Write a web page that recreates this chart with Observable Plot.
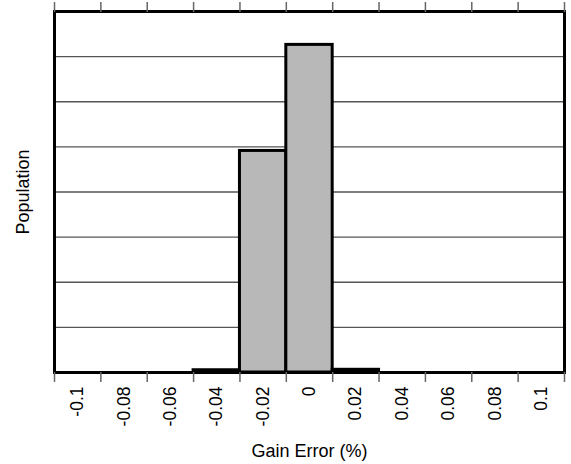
<!DOCTYPE html>
<html>
<head>
<meta charset="utf-8">
<script src="https://cdn.jsdelivr.net/npm/d3@7"></script>
<script src="https://cdn.jsdelivr.net/npm/@observablehq/plot@0.6"></script>
<style>
  html, body { margin: 0; padding: 0; background: #fff; }
</style>
</head>
<body>
<div id="chart"></div>
<script>
// Bin centers (Gain Error, %) and their tick labels
const binCenters = [-0.1, -0.08, -0.06, -0.04, -0.02, 0, 0.02, 0.04, 0.06, 0.08, 0.1];
const binLabels = ["-0.1", "-0.08", "-0.06", "-0.04", "-0.02", "0", "0.02", "0.04", "0.06", "0.08", "0.1"];
// Population per bin (arbitrary units, no y tick labels in the original)
const population = [0, 0, 0, 0.05, 4.91, 7.26, 0.06, 0, 0, 0, 0];
// Bin edges (tick marks sit on bin boundaries)
const binEdges = [-0.11, -0.09, -0.07, -0.05, -0.03, -0.01, 0.01, 0.03, 0.05, 0.07, 0.09, 0.11];
const gridValues = [1, 2, 3, 4, 5, 6, 7];
const binWidth = 0.02;

const bins = binCenters.map((c, i) => ({center: c, label: binLabels[i], value: population[i]}));

const chart = Plot.plot({
  width: 571,
  height: 464,
  marginLeft: 54,
  marginRight: 7,
  marginTop: 11,
  marginBottom: 92,
  style: {fontFamily: "'Liberation Sans', Arial, Helvetica, sans-serif", background: "#fff", color: "#000"},
  x: {type: "linear", domain: [-0.11, 0.11], axis: null},
  y: {domain: [0, 8], axis: null},
  marks: [
    Plot.gridY(gridValues, {stroke: "#555", strokeOpacity: 1, strokeWidth: 1.4}),
    Plot.rectY(bins, {
      x1: d => d.center - binWidth / 2,
      x2: d => d.center + binWidth / 2,
      y: "value",
      fill: "#b8b8b8",
      stroke: "#000",
      strokeWidth: 3
    }),
    Plot.frame({stroke: "#000", strokeWidth: 3}),
    Plot.axisX({anchor: "bottom", ticks: binEdges, tickSize: 10, tickFormat: () => "", stroke: "#666", strokeWidth: 1.5, label: null}),
    Plot.axisX({anchor: "top", ticks: binEdges, tickSize: 10, tickFormat: () => "", stroke: "#666", strokeWidth: 1.5, label: null}),
    Plot.text(bins, {
      x: "center",
      text: "label",
      frameAnchor: "bottom",
      dy: 14,
      rotate: -90,
      textAnchor: "end",
      lineAnchor: "middle",
      fontSize: 17.5,
      fill: "#000"
    }),
    Plot.text(["Population"], {
      frameAnchor: "left",
      dx: -31,
      rotate: -90,
      textAnchor: "middle",
      lineAnchor: "middle",
      fontSize: 18,
      fill: "#000"
    }),
    Plot.text(["Gain Error (%)"], {
      frameAnchor: "bottom",
      dy: 79,
      textAnchor: "middle",
      lineAnchor: "middle",
      fontSize: 18,
      fill: "#000"
    })
  ]
});
document.getElementById("chart").appendChild(chart);
</script>
</body>
</html>
